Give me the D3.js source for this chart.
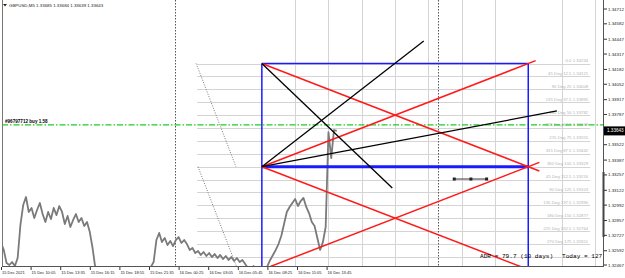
<!DOCTYPE html>
<html><head><meta charset="utf-8">
<script src="https://cdn.jsdelivr.net/npm/d3@7"></script>
<style>body{margin:0;background:#fff;}svg{display:block;}</style>
</head><body>
<svg id="c" width="625" height="278"></svg>
<script>
// ---------------- DATA ----------------
const symbolTitle = "GBPUSD,M5  1.33685 1.33684 1.33639 1.33643";
const timeLabels = ["15 Dec 2021","15 Dec 10:05","15 Dec 13:35","15 Dec 16:15","15 Dec 18:55","15 Dec 21:35","16 Dec 00:25","16 Dec 03:05","16 Dec 05:45","16 Dec 08:25","16 Dec 11:05","16 Dec 13:45"];
const timeLabelBars = [0,32,64,96,128,160,192,224,256,288,320,352];
const priceTicks = [1.34712,1.34582,1.34447,1.34317,1.34182,1.34052,1.33917,1.33787,1.33522,1.33387,1.33257,1.33122,1.32992,1.32857,1.32727,1.32592,1.32467];
const currentPrice = 1.33643;
const closeStepBars = 3;
const closes = [
 1.32660,1.32599,1.32484,1.32467,1.32493,1.32458,1.32528,1.32818,1.32993,1.33063,
 1.32932,1.32967,1.32879,1.32949,1.33011,1.32914,1.32844,1.32932,1.32870,1.32967,
 1.32905,1.32984,1.32932,1.32826,1.32897,1.32800,1.32862,1.32914,1.32844,1.32879,
 1.32809,1.32844,1.32756,1.32616,1.32440,1.32335,1.3242,1.3238,1.3240,1.3236,
 1.3239,1.3241,1.3237,1.3235,1.3238,1.3240,1.3236,1.3239,1.3242,1.3238,
 1.3240,1.3243,1.3241,1.3244,1.3245,1.32493,1.32686,1.32748,1.32668,1.32704,
 1.32642,1.32677,1.32633,1.32686,1.32712,1.32660,1.32686,1.32651,1.32599,1.32616,
 1.32572,1.32590,1.32555,1.32581,1.32546,1.32572,1.32537,1.32563,1.32528,1.32555,
 1.32519,1.32546,1.32511,1.32537,1.32502,1.32528,1.32493,1.32511,1.32476,1.32440,
 1.32405,1.32458,1.32423,1.32388,1.32423,1.32405,1.32458,1.32511,1.32555,1.32599,
 1.32651,1.32721,1.32826,1.32932,1.32976,1.33011,1.33046,1.32984,1.33028,1.33055,
 1.32976,1.32923,1.32844,1.32809,1.32704,1.32599,1.32668,1.32800,1.33633,1.33405,
 1.33651,1.33643
];
const orderPrice = 1.33695;
const orderLabel = "#96797712 buy 1.58";
const gannLevelPrices = [1.34234,1.34121,1.34008,1.33895,1.33782,1.33669,1.33555,1.33442,1.33329,1.33216,1.33103,1.32990,1.32877,1.32764,1.32651,1.32538,1.32425];
const gannLevelNames = ["0.0","45 Deg 12.5","90 Deg 25","135 Deg 37.5","180 Deg 50","225 Deg 62.5","270 Deg 75","315 Deg 87.5","360 Deg 100","45 Deg 112.5","90 Deg 125","135 Deg 137.5","180 Deg 150","225 Deg 162.5","270 Deg 175","315 Deg 187.5","360 Deg 200"];
const gannLevelStartBar = 212, gannLevelEndBar = 637;
const boxBars = [282, 570];
const boxTopPrice = 1.34234, boxMidPrice = 1.33329, boxBottomPrice = 1.32425;
const gridVerticalBars = [318,354,390,426,462,498,534,606,642];
const separatorBars = [188, 472];
const redLines = [
  [[282,1.34234],[582,1.33291]],
  [[282,1.33329],[578,1.34259]],
  [[282,1.33329],[582,1.32390]],
  [[282,1.32425],[582,1.33367]]
];
const blackLines = [
  [[282,1.33329],[457,1.34431]],
  [[282,1.34234],[423,1.33142]],
  [[282,1.33329],[601,1.33818]]
];
const dottedDiagonals = [
  [[211,1.34234],[254,1.33329]],
  [[213,1.33329],[256,1.32425]]
];
const markerBars = [490,508,525], markerPrice = 1.33221;
const adrText = "ADR = 79.7   (10 days)";
const todayText = "Today = 127.8";

// ---------------- LAYOUT ----------------
const plotL = 2, plotR = 603, plotT = 0, plotB = 266;
const svg = d3.select("#c");
const x = d3.scaleLinear().domain([0, 650]).range([1, 1 + 650 * 0.925]);
const y = d3.scaleLinear().domain([1.32467, 1.34712]).range([265, 9]);
const F = "'Liberation Sans', Arial, sans-serif";
const MONO = "'Liberation Mono', 'Courier New', monospace";

svg.append("defs").append("clipPath").attr("id","clip")
  .append("rect").attr("x",plotL).attr("y",plotT).attr("width",plotR-plotL).attr("height",plotB-plotT);
const g = svg.append("g").attr("clip-path","url(#clip)");

// gann horizontal levels
g.selectAll(".lvl").data(gannLevelPrices).enter().append("line")
  .attr("x1", x(gannLevelStartBar)).attr("x2", x(gannLevelEndBar))
  .attr("y1", d=>Math.round(y(d))+0.5).attr("y2", d=>Math.round(y(d))+0.5)
  .attr("stroke","#d4d4d4").attr("stroke-width",1);
// vertical grid lines
g.selectAll(".vg").data(gridVerticalBars).enter().append("line")
  .attr("x1", d=>Math.round(x(d))+0.5).attr("x2", d=>Math.round(x(d))+0.5).attr("y1", plotT).attr("y2", plotB)
  .attr("stroke","#d4d4d4").attr("stroke-width",1);
// level labels (the lowest one is covered by the ADR note, as in the reference)
g.selectAll(".lt").data(gannLevelPrices.slice(0, 15)).enter().append("text")
  .attr("x", x(gannLevelEndBar)-2).attr("y", d=>y(d)-1.5)
  .attr("text-anchor","end").attr("font-family",F).attr("font-size",4.3).attr("fill","#b4b4b4")
  .text((d,i)=>gannLevelNames[i]+"   "+d.toFixed(5));
// separators
g.selectAll(".sep").data(separatorBars).enter().append("line")
  .attr("x1", d=>Math.round(x(d))+0.5).attr("x2", d=>Math.round(x(d))+0.5).attr("y1", plotT).attr("y2", plotB)
  .attr("stroke","#555").attr("stroke-width",1).attr("stroke-dasharray","1.5,1.5");
// dotted diagonals
const lineGen = d3.line().x(d=>x(d[0])).y(d=>y(d[1]));
g.selectAll(".dd").data(dottedDiagonals).enter().append("path")
  .attr("d", lineGen).attr("stroke","#555").attr("stroke-width",0.8).attr("stroke-dasharray","1,1.5").attr("fill","none");

// price line
const pts = closes.map((c,i)=>[i*closeStepBars, c]);
g.append("path").datum(pts).attr("d", lineGen)
  .attr("fill","none").attr("stroke","#7a7a7a").attr("stroke-width",1.8).attr("stroke-linejoin","round");

// order line
g.append("line").attr("x1",plotL).attr("x2",plotR).attr("y1",y(orderPrice)).attr("y2",y(orderPrice))
  .attr("stroke","#22cc22").attr("stroke-width",1.2).attr("stroke-dasharray","6,2,1.5,2");
g.append("text").attr("x",5).attr("y",y(orderPrice)-1.5).attr("font-family",F).attr("font-size",4.6)
  .attr("font-weight","bold").attr("fill","#000").text(orderLabel);

// blue box
const bx0 = x(boxBars[0]), bx1 = x(boxBars[1]);
g.append("line").attr("x1",bx0).attr("x2",bx0).attr("y1",y(boxTopPrice)).attr("y2",y(boxBottomPrice)).attr("stroke","#1a1aff").attr("stroke-width",1.5);
g.append("line").attr("x1",bx1).attr("x2",bx1).attr("y1",y(boxTopPrice)).attr("y2",y(boxBottomPrice)).attr("stroke","#1a1aff").attr("stroke-width",1.5);
g.append("line").attr("x1",bx0).attr("x2",bx1).attr("y1",y(boxTopPrice)).attr("y2",y(boxTopPrice)).attr("stroke","#1a1aff").attr("stroke-width",1.5);
g.append("line").attr("x1",bx0).attr("x2",bx1).attr("y1",y(boxMidPrice)).attr("y2",y(boxMidPrice)).attr("stroke","#1a1aff").attr("stroke-width",3);

// red lines
g.selectAll(".rl").data(redLines).enter().append("path").attr("d", lineGen)
  .attr("stroke","#ff1a1a").attr("stroke-width",1.5).attr("fill","none");
// black lines
g.selectAll(".bl").data(blackLines).enter().append("path").attr("d", lineGen)
  .attr("stroke","#000").attr("stroke-width",1.3).attr("fill","none");

// marker segment
g.append("line").attr("x1",x(markerBars[0])).attr("x2",x(markerBars[2]))
  .attr("y1",y(markerPrice)).attr("y2",y(markerPrice)).attr("stroke","#333").attr("stroke-width",1);
g.selectAll(".mk").data(markerBars).enter().append("rect")
  .attr("x",d=>x(d)-1.5).attr("y",y(markerPrice)-1.5).attr("width",3).attr("height",3)
  .attr("fill","#222");

// ADR note
g.append("text").attr("x",480).attr("y",258).attr("font-family",MONO)
  .attr("font-size",6.1).attr("fill","#000").text(adrText);
g.append("text").attr("x",562).attr("y",258).attr("font-family",MONO)
  .attr("font-size",6.1).attr("fill","#000").text(todayText);

// frame
svg.append("line").attr("x1",plotL+0.5).attr("x2",plotL+0.5).attr("y1",0).attr("y2",plotB).attr("stroke","#777").attr("stroke-width",1);
svg.append("line").attr("x1",plotL).attr("x2",plotR).attr("y1",plotB+0.5).attr("y2",plotB+0.5).attr("stroke","#555").attr("stroke-width",1);
svg.append("line").attr("x1",plotR+0.5).attr("x2",plotR+0.5).attr("y1",0).attr("y2",plotB+1).attr("stroke","#555").attr("stroke-width",1);
svg.append("line").attr("x1",plotR+0.5).attr("x2",plotR+0.5).attr("y1",172).attr("y2",237).attr("stroke","#444").attr("stroke-width",2);

// right axis
const ra = svg.append("g");
ra.selectAll(".t").data(priceTicks).enter().append("line")
  .attr("x1",plotR+1).attr("x2",plotR+4).attr("y1",d=>y(d)).attr("y2",d=>y(d)).attr("stroke","#333");
ra.selectAll(".tl").data(priceTicks).enter().append("text")
  .attr("x",plotR+5).attr("y",d=>y(d)+1.5).attr("font-family",F).attr("font-size",4.4).attr("fill","#222")
  .text(d=>d.toFixed(5));
ra.append("rect").attr("x",plotR+1).attr("y",y(currentPrice)-4.5).attr("width",22).attr("height",9).attr("fill","#000");
ra.append("text").attr("x",plotR+4).attr("y",y(currentPrice)+1.6).attr("font-family",F).attr("font-size",4.6)
  .attr("fill","#fff").text(currentPrice.toFixed(5));

// bottom axis
const ba = svg.append("g");
ba.selectAll(".t").data(timeLabelBars).enter().append("line")
  .attr("x1",d=>x(d)+0.5).attr("x2",d=>x(d)+0.5).attr("y1",plotB+1).attr("y2",plotB+4).attr("stroke","#333");
ba.selectAll(".tl").data(timeLabelBars).enter().append("text")
  .attr("x",d=>x(d)+1).attr("y",274).attr("font-family",F).attr("font-size",4.0).attr("fill","#222")
  .text((d,i)=>timeLabels[i]);

// title
svg.append("path").attr("d","M3,4 L7,4 L5,6.5 Z").attr("fill","#222");
svg.append("text").attr("x",9).attr("y",7).attr("font-family",F).attr("font-size",4.4).attr("fill","#222").text(symbolTitle);
</script>
</body></html>
